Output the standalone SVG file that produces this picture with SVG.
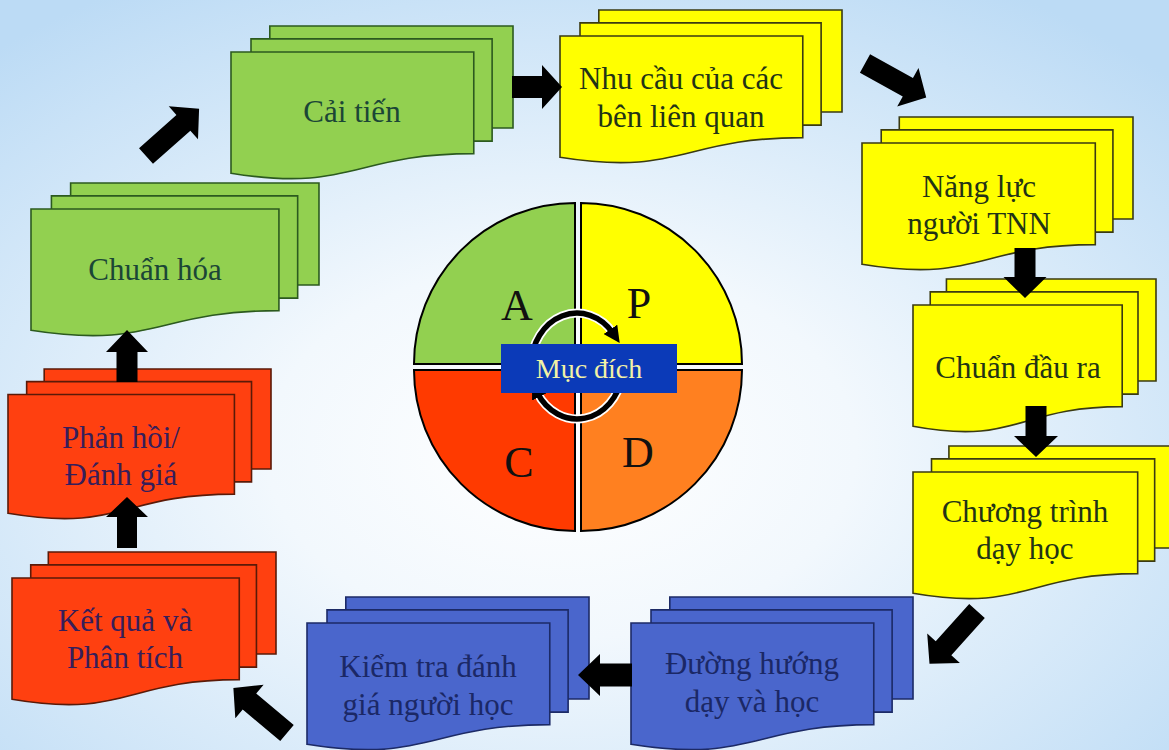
<svg xmlns="http://www.w3.org/2000/svg" xmlns:xlink="http://www.w3.org/1999/xlink" width="1169" height="750" viewBox="0 0 1169 750">
  <defs>
    <radialGradient id="bg" cx="0.48" cy="0.6" r="0.72">
      <stop offset="0" stop-color="#FFFFFF"/>
      <stop offset="0.35" stop-color="#F2F8FD"/>
      <stop offset="1" stop-color="#BCDBF5"/>
    </radialGradient>
    <!-- stacked-document shape in a 216x216 box; stroke stays 1.6px when scaled -->
    <g id="multidoc">
      <path class="pg" d="M29.72,0 H216 V143.92 H29.72 Z"/>
      <path class="pg" d="M15.32,18.15 H200 V162.52 H15.32 Z"/>
      <path class="pg" d="M0,36.75 H185.95 V180.22 C92.98,180.22 92.98,235.42 0,207.82 Z"/>
    </g>
    <marker id="ringhead" viewBox="0 0 10 10" refX="3" refY="5" markerWidth="3" markerHeight="3" orient="auto">
      <path d="M0,0 L10,5 L0,10 Z" fill="#000"/>
    </marker>
  </defs>
  <style>
    .pg { vector-effect: non-scaling-stroke; stroke-width: 1.6; stroke-linejoin: miter; }
    .green { fill: #92D050; stroke: #2C5A1F; }
    .yellow { fill: #FFFF00; stroke: #3A3A12; }
    .blue { fill: #4A66CC; stroke: #1C2A66; }
    .red { fill: #FF4010; stroke: #5A1A08; }
    .lbl { font-family: "Liberation Serif", "DejaVu Serif", serif; font-size: 31px; text-anchor: middle; }
    .tg { fill: #1B4636; }
    .ty { fill: #223316; }
    .tb { fill: #1B2866; }
    .tr { fill: #361E5A; }
    .arrow { fill: #000; }
    .quad { stroke: #000; stroke-width: 2; }
    .letter { font-family: "Liberation Serif", "DejaVu Serif", serif; font-size: 44px; fill: #111; text-anchor: middle; }
  </style>

  <rect width="1169" height="750" fill="url(#bg)"/>

  <!-- process nodes -->
  <g id="node-cai-tien">
    <use xlink:href="#multidoc" class="green" transform="translate(231,26) scale(1.3056,0.7083)"/>
    <text class="lbl tg" x="352" y="122">Cải tiến</text>
  </g>
  <g id="node-nhu-cau">
    <use xlink:href="#multidoc" class="yellow" transform="translate(560,10) scale(1.3056,0.7083)"/>
    <text class="lbl ty" x="681" y="89">Nhu cầu của các</text>
    <text class="lbl ty" x="681" y="127">bên liên quan</text>
  </g>
  <g id="node-nang-luc">
    <use xlink:href="#multidoc" class="yellow" transform="translate(862,117) scale(1.2546,0.7083)"/>
    <text class="lbl ty" x="979" y="197">Năng lực</text>
    <text class="lbl ty" x="979" y="234">người TNN</text>
  </g>
  <g id="node-chuan-dau-ra">
    <use xlink:href="#multidoc" class="yellow" transform="translate(913,279) scale(1.125,0.7083)"/>
    <text class="lbl ty" x="1018" y="378">Chuẩn đầu ra</text>
  </g>
  <g id="node-chuong-trinh">
    <use xlink:href="#multidoc" class="yellow" transform="translate(913,446) scale(1.2083,0.7083)"/>
    <text class="lbl ty" x="1025" y="522">Chương trình</text>
    <text class="lbl ty" x="1025" y="559">dạy học</text>
  </g>
  <g id="node-duong-huong">
    <use xlink:href="#multidoc" class="blue" transform="translate(631,597) scale(1.3056,0.7083)"/>
    <text class="lbl tb" x="752" y="674">Đường hướng</text>
    <text class="lbl tb" x="752" y="712">dạy và học</text>
  </g>
  <g id="node-kiem-tra">
    <use xlink:href="#multidoc" class="blue" transform="translate(307,597) scale(1.3056,0.7083)"/>
    <text class="lbl tb" x="428" y="677">Kiểm tra đánh</text>
    <text class="lbl tb" x="428" y="715">giá người học</text>
  </g>
  <g id="node-ket-qua">
    <use xlink:href="#multidoc" class="red" transform="translate(12,552) scale(1.2222,0.7083)"/>
    <text class="lbl tr" x="125" y="631">Kết quả và</text>
    <text class="lbl tr" x="125" y="668">Phân tích</text>
  </g>
  <g id="node-phan-hoi">
    <use xlink:href="#multidoc" class="red" transform="translate(8,369) scale(1.2176,0.6944)"/>
    <text class="lbl tr" x="121" y="448">Phản hồi/</text>
    <text class="lbl tr" x="121" y="485">Đánh giá</text>
  </g>
  <g id="node-chuan-hoa">
    <use xlink:href="#multidoc" class="green" transform="translate(31,183) scale(1.3333,0.7083)"/>
    <text class="lbl tg" x="155" y="280">Chuẩn hóa</text>
  </g>

  <!-- PDCA wheel -->
  <g id="node-pdca">
    <path class="quad" fill="#92D050" d="M575,364 L414,364 A161,161 0 0 1 575,203 Z"/>
    <path class="quad" fill="#FFFF00" d="M581,364 L581,203 A161,161 0 0 1 742,364 Z"/>
    <path class="quad" fill="#FF8020" d="M581,370 L742,370 A161,161 0 0 1 581,531 Z"/>
    <path class="quad" fill="#FF3A00" d="M575,370 L575,531 A161,161 0 0 1 414,370 Z"/>
    <text class="letter" x="517" y="320">A</text>
    <text class="letter" x="639" y="318">P</text>
    <text class="letter" x="519" y="477">C</text>
    <text class="letter" x="638" y="467">D</text>
    <!-- cycle arrows -->
    <path d="M531,366 A46,53 0 0 1 613.2,333.4" fill="none" stroke="#fff" stroke-width="9"/>
    <path d="M622.3,375.2 A46,53 0 0 1 537.2,392.5" fill="none" stroke="#fff" stroke-width="9"/>
    <path d="M531,366 A46,53 0 0 1 613.2,333.4" fill="none" stroke="#000" stroke-width="5.5" marker-end="url(#ringhead)"/>
    <path d="M622.3,375.2 A46,53 0 0 1 537.2,392.5" fill="none" stroke="#000" stroke-width="5.5" marker-end="url(#ringhead)"/>
    <rect x="501" y="344" width="176" height="49" fill="#0B3AB8"/>
    <text x="589" y="378" font-family="Liberation Serif, DejaVu Serif, serif" font-size="28" fill="#F2F2A6" text-anchor="middle">Mục đích</text>
  </g>

  <!-- connectors: block arrows, each drawn from its tail with a rotation -->
  <g id="connectors" class="arrow">
    <path transform="translate(512,87)" d="M0,-11 H30 V-22 L50,0 L30,22 V11 H0 Z"/>
    <path transform="translate(865,63.5) rotate(29)" d="M0,-10.5 H49 V-22 L70,0 L49,22 V10.5 H0 Z"/>
    <path transform="translate(1025,248) rotate(90)" d="M0,-10.5 H29 V-21.5 L50,0 L29,21.5 V10.5 H0 Z"/>
    <path transform="translate(1036,406) rotate(90)" d="M0,-10.5 H30 V-22 L51,0 L30,22 V10.5 H0 Z"/>
    <path transform="translate(977,611) rotate(132)" d="M0,-10.5 H50 V-22 L71,0 L50,22 V10.5 H0 Z"/>
    <path transform="translate(632,675) rotate(180)" d="M0,-11.5 H32 V-21 L54,0 L32,21 V11.5 H0 Z"/>
    <path transform="translate(287,733) rotate(220)" d="M0,-10.5 H49 V-22 L70,0 L49,22 V10.5 H0 Z"/>
    <path transform="translate(127,548) rotate(-90)" d="M0,-10 H31 V-21 L51,0 L31,21 V10 H0 Z"/>
    <path transform="translate(127,382) rotate(-90)" d="M0,-10.5 H30 V-21 L52,0 L30,21 V10.5 H0 Z"/>
    <path transform="translate(146,156) rotate(-41.6)" d="M0,-10.5 H50 V-22 L71,0 L50,22 V10.5 H0 Z"/>
  </g>
</svg>
